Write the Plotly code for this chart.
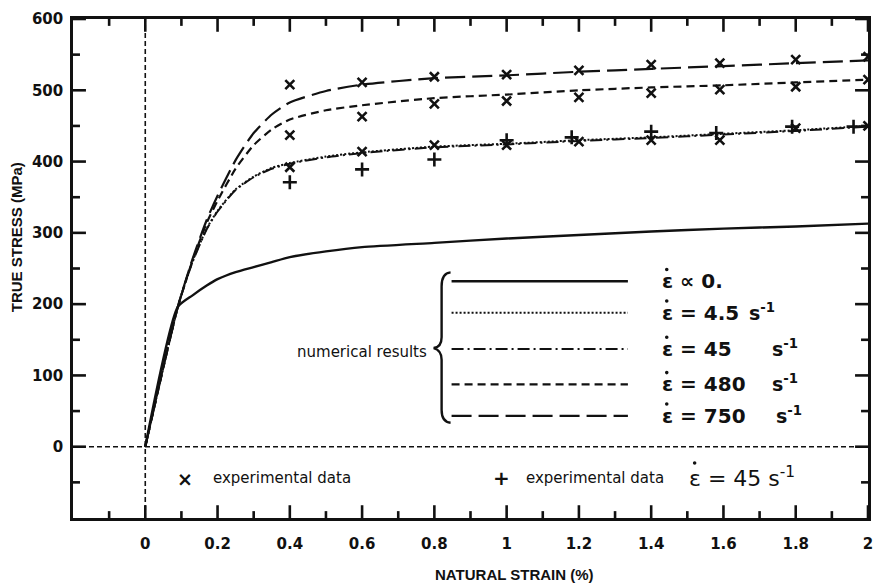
import plotly.graph_objects as go

# ---- numerical results: true stress (MPa) vs natural strain (%) ----
strain = [0, 0.09, 0.13, 0.17, 0.2, 0.25, 0.3, 0.35, 0.4, 0.5, 0.6, 0.8, 1.0, 1.2, 1.4, 1.6, 1.8, 2.0]
stress_static = [0, 196, 212, 226, 235, 245, 252, 259, 266, 274, 280, 286, 292, 297, 302, 306, 309, 313]
stress_4_5 = [0, 196, 259, 306, 331, 361, 379, 391, 398, 407, 413, 421, 425, 430, 434, 439, 444, 450]
stress_45 = [0, 196, 258, 305, 330, 360, 378, 390, 397, 406, 412, 420, 424, 429, 433, 438, 443, 449]
stress_480 = [0, 196, 260, 314, 345, 390, 423, 445, 459, 472, 479, 489, 494, 500, 504, 507, 511, 515]
stress_750 = [0, 196, 262, 318, 352, 402, 440, 466, 483, 499, 508, 517, 521, 526, 530, 534, 538, 542]

# ---- experimental data ----
exp_strain = [0.4, 0.6, 0.8, 1.0, 1.2, 1.4, 1.59, 1.8, 2.0]
exp_x_high = [508, 511, 519, 522, 528, 536, 538, 543, 547]
exp_x_mid = [437, 463, 481, 485, 490, 496, 501, 505, 515]
exp_x_low = [392, 414, 423, 423, 428, 430, 430, 447, 450]
exp45_strain = [0.4, 0.6, 0.8, 1.0, 1.18, 1.4, 1.58, 1.79, 1.96]
exp45_stress = [371, 389, 403, 430, 434, 442, 440, 449, 449]

# ---- axes ----
X_RANGE = [-0.2, 2]
Y_RANGE = [-100, 600]
x_ticks = [0, 0.2, 0.4, 0.6, 0.8, 1, 1.2, 1.4, 1.6, 1.8, 2]
x_tick_text = ["0", "0.2", "0.4", "0.6", "0.8", "1", "1.2", "1.4", "1.6", "1.8", "2"]
x_minor = [-0.1, 0.1, 0.3, 0.5, 0.7, 0.9, 1.1, 1.3, 1.5, 1.7, 1.9]
y_ticks = [0, 100, 200, 300, 400, 500, 600]
y_minor = [-50, 50, 150, 250, 350, 450, 550]

legend_values = [("∝", "0."), ("=", "4.5"), ("=", "45"), ("=", "480"), ("=", "750")]

FONT = "Liberation Sans, Arial, sans-serif"
WIDE = "DejaVu Sans, Verdana, sans-serif"
BLACK = "#111111"

# plot-area geometry (pixels) used to place the hand-drawn key
L, R, T, B = 73, 871, 10, 518
W, H = R - L, B - T
X_PER_PX = (X_RANGE[1] - X_RANGE[0]) / W
Y_PER_PX = (Y_RANGE[1] - Y_RANGE[0]) / H


def px(x):
    return (x - L) / W


def py(y):
    return (B - y) / H


styles = [
    ("solid", 2.4),
    ("2px,2px", 2.0),
    ("12px,4px,2px,4px", 2.0),
    ("8px,5px", 2.2),
    ("20px,7px", 2.2),
]
curves = [stress_static, stress_4_5, stress_45, stress_480, stress_750]

fig = go.Figure()

# inward frame ticks on all four sides, drawn as one segmented line
MAJ, MIN = 13, 7
tx, ty = [], []
for xv, ln in [(v, MAJ) for v in x_ticks] + [(v, MIN) for v in x_minor]:
    d = ln * Y_PER_PX
    tx += [xv, xv, None, xv, xv, None]
    ty += [Y_RANGE[0], Y_RANGE[0] + d, None, Y_RANGE[1], Y_RANGE[1] - d, None]
for yv, ln in [(v, MAJ) for v in y_ticks] + [(v, MIN) for v in y_minor]:
    d = ln * X_PER_PX
    tx += [X_RANGE[0], X_RANGE[0] + d, None, X_RANGE[1], X_RANGE[1] - d, None]
    ty += [yv, yv, None, yv, yv, None]
fig.add_trace(go.Scatter(x=tx, y=ty, mode="lines", line=dict(color=BLACK, width=2.6),
                         showlegend=False, hoverinfo="skip", cliponaxis=False))

for ys, (dash, w) in zip(curves, styles):
    fig.add_trace(go.Scatter(
        x=strain, y=ys, mode="lines",
        line=dict(color=BLACK, width=w, dash=dash, shape="spline", smoothing=0.6),
        showlegend=False, hoverinfo="skip",
    ))

for ys in (exp_x_high, exp_x_mid, exp_x_low):
    fig.add_trace(go.Scatter(
        x=exp_strain, y=ys, mode="markers",
        marker=dict(symbol="x-thin", size=9, line=dict(color=BLACK, width=2.6)),
        showlegend=False,
    ))

fig.add_trace(go.Scatter(
    x=exp45_strain, y=exp45_stress, mode="markers",
    marker=dict(symbol="cross-thin", size=10, line=dict(color=BLACK, width=2.6)),
    showlegend=False,
))

shapes = []
# dashed reference lines through the origin
shapes.append(dict(type="line", xref="x", yref="y", x0=0, x1=0, y0=Y_RANGE[0], y1=Y_RANGE[1],
                   line=dict(color=BLACK, width=1.6, dash="5px,3px")))
shapes.append(dict(type="line", xref="x", yref="y", x0=X_RANGE[0], x1=X_RANGE[1], y0=0, y1=0,
                   line=dict(color=BLACK, width=1.6, dash="5px,3px")))

# key: sample lines
rows_px = [277, 309, 346, 382, 414]
for yy, (dash, w) in zip(rows_px, styles):
    shapes.append(dict(type="line", xref="paper", yref="paper",
                       x0=px(453), x1=px(630), y0=py(yy), y1=py(yy),
                       line=dict(color=BLACK, width=w, dash=dash)))

# curly brace
pts = [(452, 268), (443, 269), (443, 282), (443, 334), (443, 344), (435, 345),
       (443, 347), (443, 357), (443, 408), (443, 420), (452, 421)]
P = [(px(a), py(b)) for a, b in pts]
path = (f"M {P[0][0]},{P[0][1]} Q {P[1][0]},{P[1][1]} {P[2][0]},{P[2][1]} "
        f"L {P[3][0]},{P[3][1]} Q {P[4][0]},{P[4][1]} {P[5][0]},{P[5][1]} "
        f"Q {P[6][0]},{P[6][1]} {P[7][0]},{P[7][1]} L {P[8][0]},{P[8][1]} "
        f"Q {P[9][0]},{P[9][1]} {P[10][0]},{P[10][1]}")
shapes.append(dict(type="path", xref="paper", yref="paper", path=path,
                   line=dict(color=BLACK, width=2.4)))

annotations = []


def note(x, y, text, size, family=WIDE, anchor="left"):
    annotations.append(dict(xref="paper", yref="paper", x=px(x), y=py(y),
                            xanchor=anchor, yanchor="middle", showarrow=False,
                            text=text, font=dict(family=family, size=size, color=BLACK)))


def rate_dot(cx, cy, r):
    # the dot marking a time derivative above the epsilon
    shapes.append(dict(type="circle", xref="paper", yref="paper",
                       x0=px(cx - r), x1=px(cx + r), y0=py(cy + r), y1=py(cy - r),
                       fillcolor=BLACK, line=dict(width=0)))


unit_x = [None, 750, 773, 773, 777]
for yy, (op, val), ux in zip(rows_px, legend_values, unit_x):
    note(662, yy, f"<b>ε {op} {val}</b>", 20)
    rate_dot(669, yy - 12, 1.8)
    if ux:
        note(ux, yy - 1, "<b>s<sup>-1</sup></b>", 19)

note(430, 349, "numerical results", 15, anchor="right")

# bottom key for experimental points
note(185, 478, "<b>×</b>", 19, anchor="center")
note(212, 477, "experimental data", 15)
note(503, 477, "<b>+</b>", 20, anchor="center")
note(526, 477, "experimental data", 15)
note(689, 476, "ε = 45 s<sup>-1</sup>", 22)
rate_dot(697, 462, 1.8)

# axis titles
annotations.append(dict(xref="paper", yref="paper", x=px(16), y=py(232), xanchor="center",
                        yanchor="middle", showarrow=False, textangle=-90,
                        text="<b>TRUE STRESS (MPa)</b>",
                        font=dict(family=FONT, size=15, color=BLACK)))
annotations.append(dict(xref="paper", yref="paper", x=px(516), y=py(576), xanchor="center",
                        yanchor="middle", showarrow=False,
                        text="<b>NATURAL STRAIN (%)</b>",
                        font=dict(family=FONT, size=15, color=BLACK)))

fig.update_layout(
    width=883, height=585,
    margin=dict(l=L, r=883 - R, t=T, b=585 - B),
    paper_bgcolor="white", plot_bgcolor="white",
    font=dict(family=FONT, color=BLACK),
    shapes=shapes, annotations=annotations,
    showlegend=False,
)

fig.update_xaxes(
    range=X_RANGE, tickvals=x_ticks, ticktext=x_tick_text, ticks="",
    showline=True, linewidth=2.5, linecolor=BLACK, mirror=True,
    showgrid=False, zeroline=False,
    tickfont=dict(family=WIDE, size=15, color=BLACK, weight="bold"),
    ticklabelstandoff=10,
)
fig.update_yaxes(
    range=Y_RANGE, tickvals=y_ticks, ticks="",
    showline=True, linewidth=2.5, linecolor=BLACK, mirror=True,
    showgrid=False, zeroline=False,
    tickfont=dict(family=WIDE, size=15, color=BLACK, weight="bold"),
    ticklabelstandoff=4,
)

fig.write_html("out.html")
